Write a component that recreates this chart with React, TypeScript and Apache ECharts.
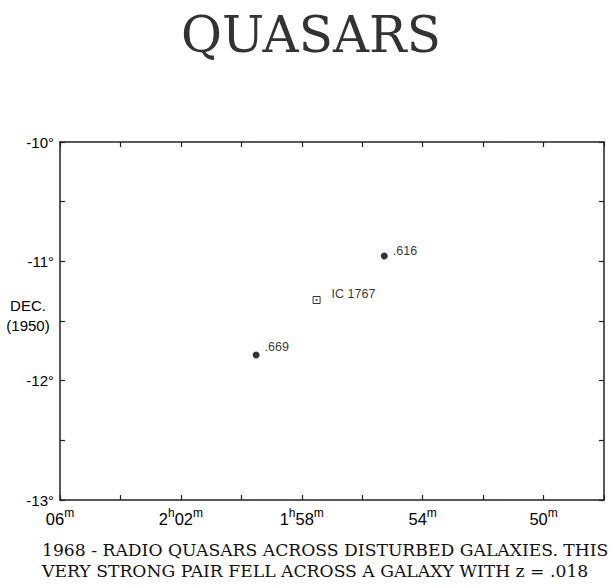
import React, { useEffect, useRef } from "react";
import * as echarts from "echarts";

// Right ascension in minutes of time (e.g. 2h06m = 126), declination in degrees
const quasarRA = [115.27, 119.51];
const quasarDec = [-10.955, -11.785];
const quasarNames = [".616", ".669"];

const galaxyRA = [117.51];
const galaxyDec = [-11.324];
const galaxyNames = ["IC 1767"];

const xTickValues = [126, 122, 118, 114, 110];
const xTickHours = ["", "2", "1", "", ""];
const xTickMinutes = ["06", "02", "58", "54", "50"];

const yTickValues = [-10, -11, -12, -13];
const yTickLabels = ["-10°", "-11°", "-12°", "-13°"];

const titleText = "QUASARS";
const yNameLines = ["DEC.", "(1950)"];
const captionLines = [
  "1968 - RADIO QUASARS ACROSS DISTURBED GALAXIES. THIS",
  "VERY STRONG PAIR FELL ACROSS A GALAXY WITH z = .018",
];

const quasarLabelStyle = [
  { distance: 5, offset: [0, -5] },
  { distance: 5, offset: [0, -8] },
];
const galaxyLabelStyle = [{ distance: 11, offset: [0, -6] }];

export default function App() {
  const ref = useRef<HTMLDivElement>(null);
  useEffect(() => {
    if (!ref.current) return;
    const chart = echarts.init(ref.current, undefined, { renderer: "svg" });
    const axisColor = "#222";
    const labelFont = "Liberation Sans";
    const xFormatter = (v: number) => {
      const i = xTickValues.indexOf(Math.round(v));
      if (i < 0) return "";
      const h = xTickHours[i];
      return (h ? `{a|${h}}{s|h}` : "") + `{a|${xTickMinutes[i]}}{s|m}`;
    };
    const yFormatter = (v: number) => {
      const i = yTickValues.indexOf(Math.round(v * 100) / 100);
      return i < 0 ? "" : yTickLabels[i];
    };
    const commonX = {
      type: "value",
      min: 108,
      max: 126,
      interval: 2,
      inverse: true,
      splitLine: { show: false },
      axisLine: { show: true, lineStyle: { color: axisColor, width: 1.5 } },
      axisTick: { show: true, inside: true, length: 5, lineStyle: { color: axisColor, width: 1.2 } },
    };
    const commonY = {
      type: "value",
      min: -13,
      max: -10,
      interval: 0.5,
      splitLine: { show: false },
      axisLine: { show: true, lineStyle: { color: axisColor, width: 1.5 } },
      axisTick: { show: true, inside: true, length: 5, lineStyle: { color: axisColor, width: 1.2 } },
    };
    chart.setOption({
      animation: false,
      backgroundColor: "#fff",
      title: {
        text: titleText,
        left: 176,
        top: 5,
        textStyle: {
          fontFamily: "DejaVu Serif",
          fontSize: 50,
          fontWeight: "normal",
          color: "#333",
        },
      },
      grid: { left: 60, right: 7, top: 142, bottom: 86 },
      xAxis: [
        {
          ...commonX,
          position: "bottom",
          axisLabel: {
            show: true,
            margin: 7,
            formatter: xFormatter,
            showMinLabel: true,
            showMaxLabel: true,
            rich: {
              a: { fontFamily: labelFont, fontSize: 16.5, color: "#000", lineHeight: 20, verticalAlign: "bottom" },
              s: { fontFamily: labelFont, fontSize: 12, color: "#000", lineHeight: 20, verticalAlign: "top", padding: [0, 0, 9, 0] },
            },
          },
        },
        { ...commonX, position: "top", axisLabel: { show: false } },
      ],
      yAxis: [
        {
          ...commonY,
          position: "left",
          axisLabel: {
            show: true,
            margin: 6,
            formatter: yFormatter,
            fontFamily: labelFont,
            fontSize: 15,
            color: "#000",
          },
        },
        { ...commonY, position: "right", axisLabel: { show: false } },
      ],
      graphic: [
        ...yNameLines.map((t, i) => ({
          type: "text",
          x: 28,
          y: 305 + i * 20,
          style: {
            text: t,
            fontFamily: labelFont,
            fontSize: 15,
            fill: "#000",
            textAlign: "center",
            textVerticalAlign: "middle",
          },
        })),
        ...captionLines.map((t, i) => ({
          type: "text",
          x: 42,
          y: 550 + i * 21,
          style: {
            text: t,
            fontFamily: "DejaVu Serif",
            fontSize: 17.2,
            fill: "#111",
            textAlign: "left",
            textVerticalAlign: "middle",
          },
        })),
      ],
      series: [
        {
          type: "scatter",
          symbol: "circle",
          symbolSize: 7,
          itemStyle: { color: "#000" },
          data: quasarRA.map((x, i) => ({
            value: [x, quasarDec[i]],
            name: quasarNames[i],
            label: {
              show: true,
              position: "right",
              distance: quasarLabelStyle[i].distance,
              offset: quasarLabelStyle[i].offset,
              formatter: quasarNames[i],
              fontFamily: labelFont,
              fontSize: 12.5,
              color: "#000",
            },
          })),
        },
        {
          type: "scatter",
          symbol: "rect",
          symbolSize: 7,
          itemStyle: { color: "#fff", borderColor: "#000", borderWidth: 1 },
          data: galaxyRA.map((x, i) => ({
            value: [x, galaxyDec[i]],
            name: galaxyNames[i],
            label: {
              show: true,
              position: "right",
              distance: galaxyLabelStyle[i].distance,
              offset: galaxyLabelStyle[i].offset,
              formatter: galaxyNames[i],
              fontFamily: labelFont,
              fontSize: 12.5,
              color: "#000",
            },
          })),
        },
        {
          type: "scatter",
          symbol: "circle",
          symbolSize: 2,
          itemStyle: { color: "#000" },
          silent: true,
          data: galaxyRA.map((x, i) => [x, galaxyDec[i]]),
        },
      ],
    });
    return () => chart.dispose();
  }, []);
  return <div ref={ref} style={{ width: 611, height: 586, position: "absolute", left: 0, top: 0 }} />;
}
